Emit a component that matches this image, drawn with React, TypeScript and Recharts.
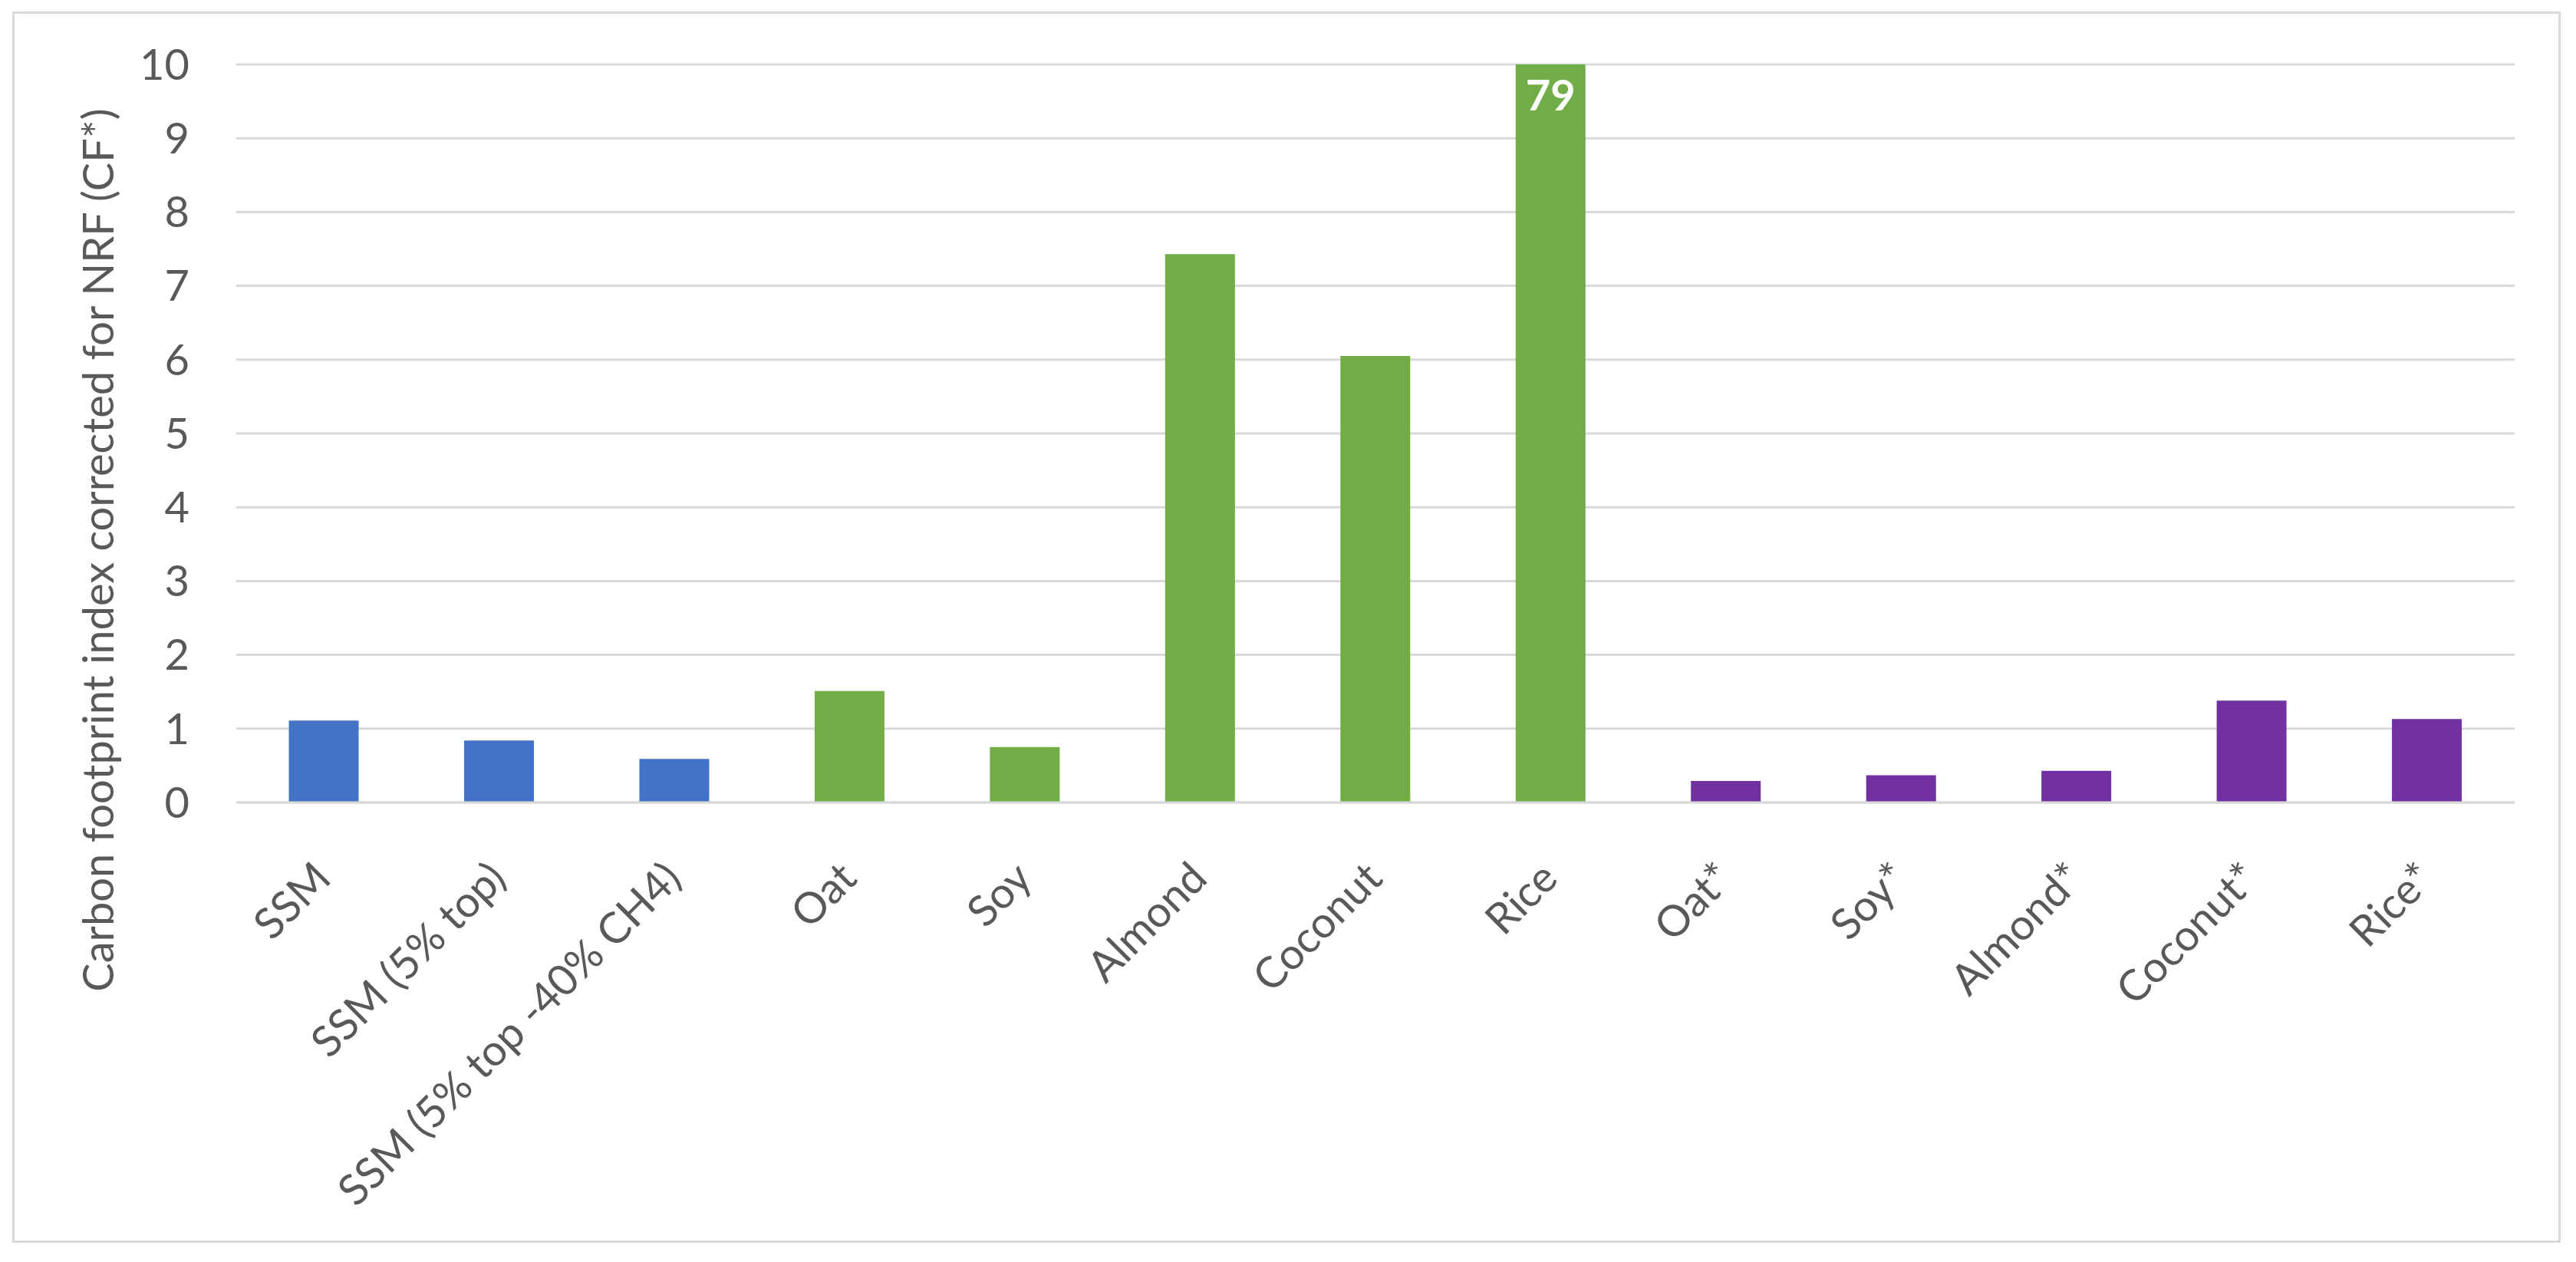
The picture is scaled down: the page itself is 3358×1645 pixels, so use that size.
import React from "react";
import { BarChart, Bar, XAxis, YAxis, CartesianGrid, Cell, LabelList } from "recharts";

const categories = [
  "SSM",
  "SSM (5% top)",
  "SSM (5% top -40% CH4)",
  "Oat",
  "Soy",
  "Almond",
  "Coconut",
  "Rice",
  "Oat*",
  "Soy*",
  "Almond*",
  "Coconut*",
  "Rice*",
];
const values = [1.11, 0.84, 0.59, 1.51, 0.75, 7.43, 6.05, 79, 0.29, 0.37, 0.43, 1.38, 1.13];
const groups = ["dairy", "dairy", "dairy", "plant", "plant", "plant", "plant", "plant", "fort", "fort", "fort", "fort", "fort"];
const groupColors: Record<string, string> = { dairy: "#4472C4", plant: "#70AD47", fort: "#7030A0" };
const yTicks = [0, 1, 2, 3, 4, 5, 6, 7, 8, 9, 10];
const Y_MAX = 10;
const yLabel = "Carbon footprint index corrected for NRF (CF*)";

const data = categories.map((c, i) => ({ name: c, value: values[i], group: groups[i] }));

const FONT = "Lato, 'Open Sans', sans-serif";
const TEXT = "#595959";
const GRID = "#D9D9D9";

const XTick = (props: any) => {
  const { x, y, payload } = props;
  const ax = x + 12;
  const ay = y + 94;
  return (
    <text
      x={ax}
      y={ay}
      textAnchor="end"
      fill={TEXT}
      fontSize={56}
      fontFamily={FONT}
      transform={`rotate(-45, ${ax}, ${ay})`}
    >
      {payload.value}
    </text>
  );
};

const OverflowLabel = (props: any) => {
  const { x, y, width, value } = props;
  if (value <= Y_MAX) return null;
  return (
    <text
      x={x + width / 2}
      y={y + 60}
      textAnchor="middle"
      fill="#FFFFFF"
      fontSize={56}
      fontWeight={700}
      fontFamily={FONT}
    >
      {value}
    </text>
  );
};

export default function App() {
  return (
    <div style={{ position: "absolute", left: 0, top: 0, width: 3358, height: 1645, background: "#fff" }}>
      <div
        style={{
          position: "absolute",
          left: 16,
          top: 15,
          width: 3322,
          height: 1605,
          border: `3px solid ${GRID}`,
          boxSizing: "border-box",
        }}
      />
      <div style={{ position: "absolute", left: 0, top: 0 }}>
        <BarChart
          width={3358}
          height={1645}
          data={data}
          margin={{ top: 84, right: 80, bottom: 0, left: 0 }}
          barCategoryGap="30%"
        >
          <CartesianGrid vertical={false} stroke={GRID} strokeWidth={3} />
          <XAxis
            dataKey="name"
            interval={0}
            height={599}
            tickLine={false}
            axisLine={{ stroke: GRID, strokeWidth: 3 }}
            tick={<XTick />}
          />
          <YAxis
            width={308}
            domain={[0, Y_MAX]}
            ticks={yTicks}
            allowDataOverflow
            tickLine={false}
            axisLine={false}
            tickSize={0}
            tickMargin={61}
            tick={{ fill: TEXT, fontSize: 56, fontFamily: FONT }}
            label={{
              content: () => (
                <text
                  x={148}
                  y={717}
                  textAnchor="middle"
                  fill={TEXT}
                  fontSize={56}
                  fontFamily={FONT}
                  transform="rotate(-90, 148, 717)"
                >
                  {yLabel}
                </text>
              ),
            }}
          />
          <Bar dataKey={(d: any) => Math.min(d.value, Y_MAX)} isAnimationActive={false}>
            {data.map((d, i) => (
              <Cell key={i} fill={groupColors[d.group]} />
            ))}
            <LabelList dataKey="value" content={<OverflowLabel />} />
          </Bar>
        </BarChart>
      </div>
    </div>
  );
}
